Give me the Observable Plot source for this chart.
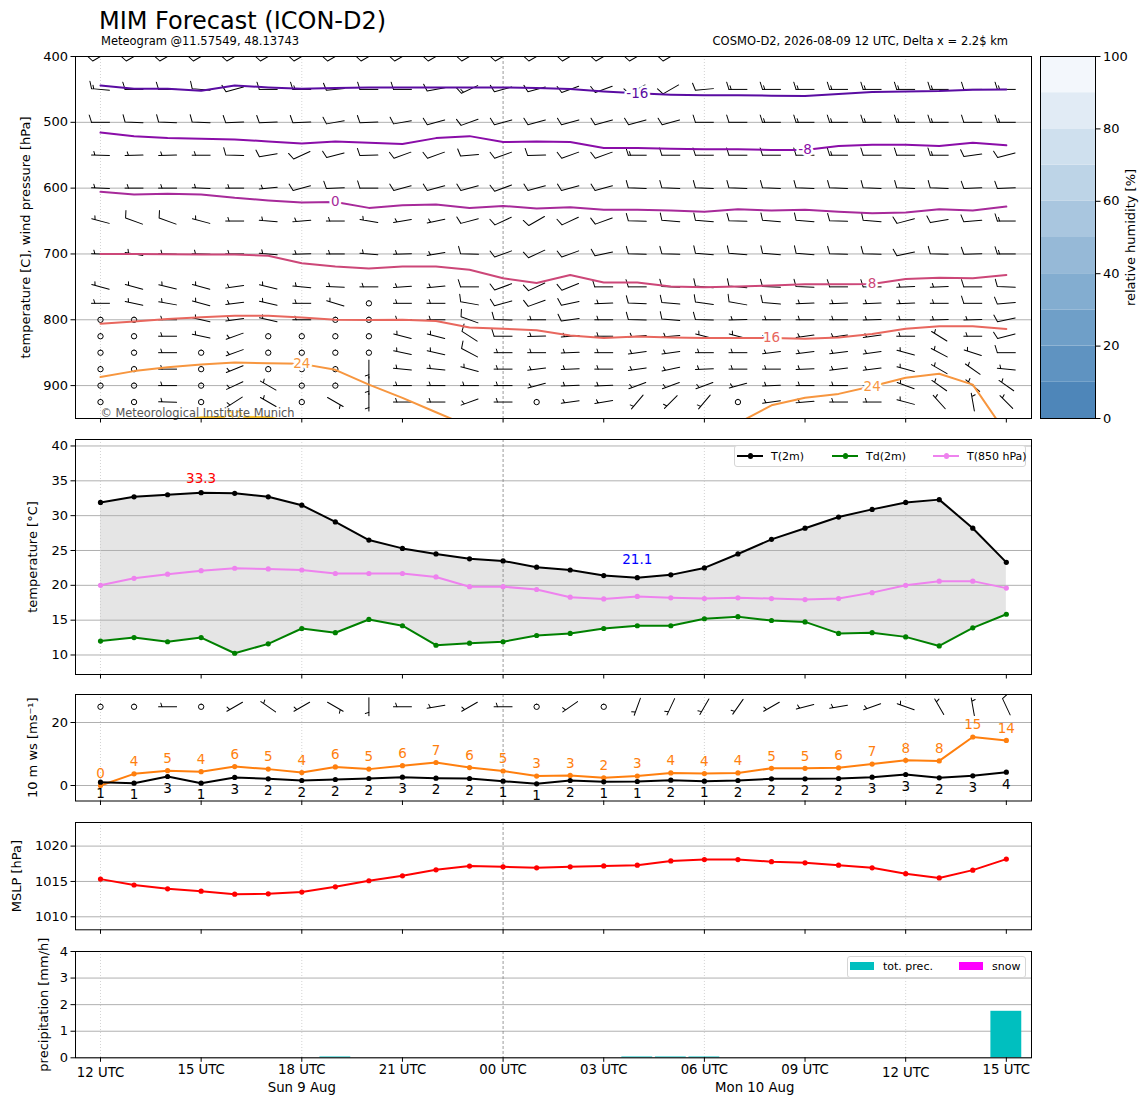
<!DOCTYPE html>
<html>
<head>
<meta charset="utf-8">
<script src="https://cdn.jsdelivr.net/npm/d3@7"></script>
<script src="https://cdn.jsdelivr.net/npm/@observablehq/plot@0.6"></script>
<style>
  html,body{margin:0;padding:0;background:#fff;}
  #wrap{position:relative;width:1148px;height:1105px;overflow:hidden;font-family:"DejaVu Sans",sans-serif;color:#000;}
  #wrap svg{position:absolute;left:0;overflow:visible;}
  .txt{position:absolute;white-space:nowrap;line-height:1;}
</style>
</head>
<body>
<div id="wrap"></div>
<script>
// ---------------- DATA ----------------
// hours after 2026-08-09 12 UTC
const hours = [0,1,2,3,4,5,6,7,8,9,10,11,12,13,14,15,16,17,18,19,20,21,22,23,24,25,26,27];
const xTicks = [0,3,6,9,12,15,18,21,24,27];
const xTickLabels = ["12 UTC","15 UTC","18 UTC","21 UTC","00 UTC","03 UTC","06 UTC","09 UTC","12 UTC","15 UTC"];
const dayLabels = ["Sun 9 Aug","Mon 10 Aug"];
const dayLabelHours = [6, 19.5];

// upper panel: wind barbs (direction deg, speed kt) per pressure level
const barbLevels = [400,450,500,550,600,650,700,750,775,800,825,850,875,900,925];
const barbDirRows = [
  [240,240,240,240,240,240,240,240,240,240,240,240,240,240,240,240,240,240,270,270,270,270,270,270,270,270,270,270],
  [275,270,270,275,255,270,270,265,270,270,260,245,255,255,250,250,240,240,265,270,270,270,270,270,270,270,270,270],
  [270,272,272,272,268,268,268,260,268,260,255,250,255,255,255,255,255,255,270,270,270,270,270,270,270,270,270,270],
  [272,268,268,270,272,260,245,255,268,250,250,265,250,268,250,250,270,270,270,270,270,270,270,270,270,270,262,255],
  [272,270,270,272,270,265,255,268,270,255,255,255,250,255,255,255,272,272,272,272,272,272,272,272,272,272,268,268],
  [285,290,290,285,270,275,265,270,280,260,258,255,245,240,245,250,272,275,275,272,275,275,272,275,255,260,265,270],
  [272,280,272,272,270,275,268,270,275,268,260,272,250,245,250,258,272,272,275,275,275,275,272,272,258,272,268,270],
  [285,285,283,285,262,283,275,272,270,266,265,270,250,245,248,270,270,272,275,275,272,272,270,270,268,268,270,272],
  [270,282,280,285,263,283,270,287,270,270,270,280,255,250,258,268,272,275,278,280,275,268,268,268,268,270,270,265],
  [270,270,270,283,262,283,270,270,270,270,270,290,272,270,262,270,272,275,272,268,270,270,270,268,270,268,268,258],
  [270,270,270,282,250,270,270,270,270,285,285,303,270,268,265,270,265,265,285,285,275,262,262,262,270,302,270,255],
  [270,270,270,270,250,270,270,270,270,282,283,298,270,270,268,270,262,262,270,270,263,263,263,262,285,298,288,270],
  [270,270,270,270,248,270,270,270,180,275,275,285,270,263,268,270,262,258,268,270,270,268,263,263,285,300,305,275],
  [270,270,270,270,245,300,270,270,180,270,270,270,270,255,268,268,250,250,250,255,268,270,270,270,290,305,310,305],
  [270,270,272,270,237,300,270,120,180,270,270,250,270,270,262,260,220,225,220,270,262,265,270,270,285,318,350,315]
];
const barbSpdRows = [
  [10,10,10,10,10,10,10,10,10,10,10,10,10,10,10,10,10,10,10,10,10,10,10,10,10,10,10,10],
  [15,10,10,10,10,10,15,10,10,10,10,15,10,10,10,10,10,10,10,15,15,15,15,15,15,15,10,15],
  [10,10,10,10,10,10,10,10,10,10,10,10,10,10,10,10,10,10,10,10,15,15,15,15,15,15,10,15],
  [5,5,5,5,10,10,10,10,10,10,10,10,10,10,10,10,15,10,10,10,10,10,15,10,10,15,10,10],
  [5,5,5,5,5,5,10,10,10,10,10,10,10,10,10,10,10,10,10,10,10,10,10,10,10,10,10,10],
  [5,10,10,5,5,5,5,5,5,5,5,10,10,10,10,10,10,10,10,10,10,10,10,10,10,10,10,15],
  [5,5,5,5,5,5,5,5,5,5,5,10,10,10,10,10,10,10,10,10,10,10,10,10,10,10,10,15],
  [5,5,5,5,5,5,5,5,5,5,5,10,10,10,10,10,10,10,10,10,10,10,10,10,5,5,10,10],
  [5,5,5,5,5,5,5,5,0,5,5,10,10,10,10,5,10,10,10,10,10,5,5,5,5,5,10,10],
  [0,0,5,5,5,5,5,0,0,5,5,10,10,5,10,5,10,10,10,5,5,5,5,5,5,5,5,10],
  [0,0,5,5,5,0,0,0,0,5,5,10,10,5,5,5,5,5,5,5,5,5,5,5,5,5,5,10],
  [0,0,5,0,5,0,0,0,0,5,5,10,5,5,5,5,5,5,5,5,5,5,5,5,5,5,5,10],
  [0,0,5,0,5,0,0,0,5,5,5,5,5,5,5,5,5,5,5,5,5,5,5,5,5,5,5,5],
  [0,0,5,0,5,5,0,0,5,5,5,5,5,5,5,5,5,5,5,5,5,5,5,5,5,5,5,5],
  [0,0,5,0,5,5,0,5,5,5,5,5,5,0,5,5,5,5,5,0,5,5,5,5,5,5,5,5]
];

// isotherms (pressure in hPa of each isotherm per hour)
const isoM16 = [444,449,449,452,444,447,449,448,447,447,447,447,447,448,449.5,453,456,458,459,459,459.5,460,457,454,453,452.5,450.5,450];
const isoM8  = [515.6,521,524,525,526,529,532,529,531,533,524,521,530,529,530,539,539,540,541,541,542,542,536,534,534,536,531,535];
const iso0   = [605.6,609.5,608.6,609.5,614.7,618.6,622,621,630,626,624.7,630,627,631,629,633,633,634,636,632,634,633,636,638,637,632,634,628];
const iso8   = [700,700,700.5,701,701,702.6,714,719,722,719,719,724,737,744,732,743.5,743.5,749.5,750.5,749.5,748,746,746,745.5,738,736,737,732];
const iso16  = [806,802.6,799,796,794,794,796.5,800,800.5,800,802,811.7,813.6,816,823.8,827.7,825.3,826.8,827.7,827.7,827.7,828.8,826.8,821.7,813.6,810,810,814];
const hours24a = [0,1,2,3,4,5,6,7,8,9,10,11];
const iso24a = [887,878,872,868,865,866,867,876,898.5,918.6,940.5,962];
const hours24b = [19,20,21,22,23,24,25,26,27];
const iso24b = [957,930,918.6,912.6,901,888,882,898.5,973];
const hours32 = [2,3,4,5,6];
const iso32 = [958,948,947.5,948,958];

// 2 m temperature panel
const t2m  = [31.9,32.7,33.0,33.3,33.2,32.7,31.5,29.1,26.5,25.3,24.5,23.8,23.5,22.6,22.2,21.4,21.1,21.5,22.5,24.5,26.6,28.2,29.8,30.9,31.9,32.3,28.2,23.3];
const td2m = [12.0,12.5,11.9,12.5,10.25,11.6,13.8,13.2,15.1,14.2,11.4,11.7,11.9,12.8,13.1,13.8,14.2,14.2,15.2,15.5,14.95,14.75,13.1,13.2,12.6,11.3,13.9,15.85];
const t850 = [20.0,21.0,21.6,22.1,22.45,22.35,22.2,21.7,21.7,21.7,21.2,19.8,19.8,19.4,18.3,18.05,18.4,18.2,18.1,18.2,18.1,17.95,18.1,18.95,20.0,20.6,20.6,19.6];

// 10 m wind panel (m/s)
const gust10 = [0.0,3.7,4.7,4.4,6.0,5.2,4.1,5.9,5.2,6.3,7.3,5.7,4.6,3.0,3.2,2.45,3.0,4.0,3.8,4.0,5.45,5.45,5.6,6.8,8.0,7.8,15.4,14.3];
const mean10 = [1.06,0.74,2.86,0.74,2.55,2.12,1.59,1.9,2.22,2.65,2.33,2.22,1.38,0.53,1.59,1.16,1.27,1.69,1.38,1.59,2.12,2.12,2.22,2.65,3.49,2.43,3.07,4.23];
const dir10  = [270,270,270,270,240,305,240,120,180,270,260,240,270,270,235,270,200,205,210,215,240,255,260,250,290,330,350,335];
const spd10  = [0,0,5,0,5,5,5,5,5,5,5,5,5,0,5,0,5,5,5,5,5,5,5,5,5,5,5,10];
const barb10Level = 25;

// MSLP (hPa)
const mslp = [1015.33,1014.5,1013.96,1013.63,1013.2,1013.25,1013.5,1014.24,1015.1,1015.8,1016.65,1017.17,1017.07,1016.93,1017.07,1017.2,1017.3,1017.9,1018.1,1018.1,1017.8,1017.64,1017.3,1016.93,1016.1,1015.5,1016.6,1018.16];

// precipitation (mm/h)
const precip = [0,0,0,0,0,0,0,0.03,0,0,0,0,0,0,0,0,0.03,0.03,0.03,0,0,0,0,0,0,0,0,1.75];
const snow   = [0,0,0,0,0,0,0,0,0,0,0,0,0,0,0,0,0,0,0,0,0,0,0,0,0,0,0,0];

// axis ticks
const pTicks = [400,500,600,700,800,900];
const tTicks = [10,15,20,25,30,35,40];
const wTicks = [0,20];
const mTicks = [1010,1015,1020];
const rTicks = [0,1,2,3,4];
const rhLevels = [0,10,20,30,40,50,60,70,80,90,100];
const rhTicks = [0,20,40,60,80,100];
const grid6h = [0,6,18,24];
const gridMidnight = [12];

// ---------------- STYLES ----------------
const rhColors = ["#4e86b9","#5f93c1","#6f9fc8","#83add0","#96b9d7","#a9c6df","#bdd4e7","#cfe0ee","#e1ebf5","#f3f7fc"];
const isoColors = {"-16":"#5a0ca2","-8":"#8a0da8","0":"#a72a9a","8":"#cc4778","16":"#e8675e","24":"#f7963f","32":"#f9c22e"};
const FONT = "DejaVu Sans, sans-serif";
const W = 1148, FL = 75, FR = 1031;
const xDomain = [-0.745, 27.75];
const wrap = document.getElementById("wrap");
const style = {fontFamily: FONT, fontSize: "13px", background: "transparent", overflow: "visible", color: "black"};

// wind barb shape for Plot.vector (length channel = speed + 1)
const barbShape = {
  draw(ctx, l) {
    const s = Math.round(l - 1);
    if (s < 2.5) { const rr = 2.7; ctx.moveTo(rr, 0); ctx.arc(0, 0, rr, 0, 2 * Math.PI); return; }
    const L = 18, half = L / 2, sp = 0.125 * L, fh = 0.4 * L, fw = 0.25 * L;
    ctx.moveTo(0, half); ctx.lineTo(0, -half);
    let n = Math.round(s / 5) * 5;
    const flags = Math.floor(n / 50); n -= flags * 50;
    const full = Math.floor(n / 10); n -= full * 10;
    const hb = n >= 5;
    let off = 0;
    for (let i = 0; i < flags; i++) { const y0 = -half + off; ctx.moveTo(0, y0); ctx.lineTo(fh, y0 + fw / 2); ctx.lineTo(0, y0 + fw); ctx.closePath(); off += fw + sp; }
    for (let i = 0; i < full; i++) { const y0 = -half + off; ctx.moveTo(0, y0); ctx.lineTo(fh, y0 - fw / 2); off += sp; }
    if (hb) { if (flags === 0 && full === 0) off += 1.5 * sp; const y0 = -half + off; ctx.moveTo(0, y0); ctx.lineTo(fh / 2, y0 - fw / 4); }
  }
};

const barbData = [];
barbLevels.forEach((p, i) => hours.forEach((h, j) => barbData.push({h, p, d: barbDirRows[i][j], s: barbSpdRows[i][j]})));
const barb10Data = hours.map((h, i) => ({h, p: barb10Level, d: dir10[i], s: spd10[i]}));

const vGrid = () => [
  Plot.ruleX(grid6h, {x: d => d, stroke: "#c8c8c8", strokeWidth: 0.8, strokeDasharray: "1,2"}),
  Plot.ruleX(gridMidnight, {x: d => d, stroke: "#808080", strokeWidth: 0.8, strokeDasharray: "3,2"})
];
const hGrid = (ticks) => Plot.gridY({ticks, stroke: "#b0b0b0", strokeOpacity: 1, strokeWidth: 1});
const yAxis = (ticks) => Plot.axisY({ticks, tickSize: 4.5, tickPadding: 3, tickFormat: d => String(d), label: null, fontSize: 13});
const xTickMarks = () => Plot.axisX({ticks: xTicks, tickSize: 4.5, tickFormat: () => "", label: null});
const frame = () => Plot.frame({stroke: "black", strokeWidth: 1});
const yLabel = (t, off) => Plot.text([t], {text: d => d, frameAnchor: "left", textAnchor: "middle", lineAnchor: "middle", rotate: -90, dx: -off, fontSize: 13});

function panel(top, bottom, yDomain, reverse, marks, mb = 24) {
  const mt = 10;
  const svg = Plot.plot({
    width: W, height: mt + (bottom - top) + mb,
    marginTop: mt, marginBottom: mb, marginLeft: FL, marginRight: W - FR,
    x: {domain: xDomain, axis: null},
    y: {domain: yDomain, reverse, axis: null},
    length: {domain: [0, 100], range: [0, 100]},
    color: {type: "identity"},
    style, marks
  });
  svg.style.top = (top - mt) + "px";
  wrap.appendChild(svg);
}

// ---------------- PANEL 1: upper air ----------------
const isoDefs = [
  {T: -16, h: hours, p: isoM16}, {T: -8, h: hours, p: isoM8}, {T: 0, h: hours, p: iso0},
  {T: 8, h: hours, p: iso8}, {T: 16, h: hours, p: iso16},
  {T: 24, h: hours24a, p: iso24a}, {T: 24, h: hours24b, p: iso24b}, {T: 32, h: hours32, p: iso32}
];
const isoLabelData = [
  {T: -16, h: 16, p: isoM16[16]}, {T: -8, h: 21, p: isoM8[21]}, {T: 0, h: 7, p: iso0[7]},
  {T: 8, h: 23, p: iso8[23]}, {T: 16, h: 20, p: iso16[20]},
  {T: 24, h: 6, p: iso24a[6]}, {T: 24, h: 23, p: iso24b[4]}, {T: 32, h: 4, p: iso32[2]}
];
panel(56, 418, [400, 950], true, [
  hGrid(pTicks),
  ...vGrid(),
  Plot.vector(barbData, {x: "h", y: "p", length: d => d.s + 1, rotate: "d", anchor: "start", shape: barbShape, stroke: "black", strokeWidth: 1, clip: true}),
  ...isoDefs.map(def => Plot.line(def.h.map((h, i) => ({h, p: def.p[i]})), {x: "h", y: "p", stroke: isoColors[def.T], strokeWidth: 2, clip: true})),
  Plot.text(isoLabelData, {x: "h", y: "p", text: d => String(d.T), fill: d => isoColors[d.T], stroke: "white", strokeWidth: 5, paintOrder: "stroke", fontSize: 13.5, clip: true}),
  Plot.text(["© Meteorological Institute Munich"], {text: d => d, frameAnchor: "bottom-left", dx: 25, dy: -2, textAnchor: "start", lineAnchor: "bottom", fill: "#555", fontSize: 11.4}),
  frame(), yAxis(pTicks), xTickMarks(),
  yLabel("temperature [C], wind pressure [hPa]", 50)
]);

// colorbar
{
  const cb = Plot.plot({
    width: W, height: 10 + 362 + 24, marginTop: 10, marginBottom: 24, marginLeft: 1040, marginRight: W - 1095,
    x: {domain: [0, 1], axis: null}, y: {domain: [0, 100], axis: null}, color: {type: "identity"},
    style,
    marks: [
      Plot.rect(rhColors, {x1: 0, x2: 1, y1: (d, i) => rhLevels[i], y2: (d, i) => rhLevels[i + 1], fill: d => d}),
      Plot.frame({stroke: "black", strokeWidth: 1}),
      Plot.axisY({anchor: "right", ticks: rhTicks, tickSize: 4.5, tickPadding: 3, tickFormat: d => String(d), label: null, fontSize: 13}),
      Plot.text(["relative humidity [%]"], {text: d => d, frameAnchor: "right", textAnchor: "middle", lineAnchor: "middle", rotate: -90, dx: 35, fontSize: 13})
    ]
  });
  cb.style.top = "46px";
  wrap.appendChild(cb);
}

// ---------------- PANEL 2: temperatures ----------------
const tData = hours.map((h, i) => ({h, t: t2m[i], td: td2m[i], t8: t850[i]}));
const iMax = d3.maxIndex(t2m), iMin = d3.minIndex(t2m);
panel(438.5, 673.5, [7.2, 40.93], false, [
  Plot.areaY(tData, {x: "h", y1: "td", y2: "t", fill: "#cfcfcf", fillOpacity: 0.55}),
  hGrid(tTicks),
  ...vGrid(),
  Plot.line(tData, {x: "h", y: "t8", stroke: "#ee82ee", strokeWidth: 2}),
  Plot.dot(tData, {x: "h", y: "t8", r: 2.6, fill: "#ee82ee"}),
  Plot.line(tData, {x: "h", y: "td", stroke: "#008000", strokeWidth: 2}),
  Plot.dot(tData, {x: "h", y: "td", r: 2.6, fill: "#008000"}),
  Plot.line(tData, {x: "h", y: "t", stroke: "black", strokeWidth: 2}),
  Plot.dot(tData, {x: "h", y: "t", r: 2.6, fill: "black"}),
  Plot.text([tData[iMax]], {x: "h", y: "t", text: d => d.t.toFixed(1), dy: -14, fill: "red", fontSize: 13.5}),
  Plot.text([tData[iMin]], {x: "h", y: "t", text: d => d.t.toFixed(1), dy: -18, fill: "blue", fontSize: 13.5}),
  frame(), yAxis(tTicks), xTickMarks(),
  yLabel("temperature [°C]", 43)
]);

// ---------------- PANEL 3: 10 m wind ----------------
const wData = hours.map((h, i) => ({h, g: gust10[i], m: mean10[i]}));
panel(694, 800.5, [-4.92, 28.89], false, [
  hGrid(wTicks),
  ...vGrid(),
  Plot.vector(barb10Data, {x: "h", y: "p", length: d => d.s + 1, rotate: "d", anchor: "start", shape: barbShape, stroke: "black", strokeWidth: 1, clip: true}),
  Plot.line(wData, {x: "h", y: "g", stroke: "#ff7f0e", strokeWidth: 2}),
  Plot.dot(wData, {x: "h", y: "g", r: 2.6, fill: "#ff7f0e"}),
  Plot.line(wData, {x: "h", y: "m", stroke: "black", strokeWidth: 2}),
  Plot.dot(wData, {x: "h", y: "m", r: 2.6, fill: "black"}),
  Plot.text(wData, {x: "h", y: "g", text: d => String(Math.round(d.g)), dy: -12, fill: "#ff7f0e", fontSize: 13.5}),
  Plot.text(wData, {x: "h", y: "m", text: d => String(Math.round(d.m)), dy: 12, fill: "black", fontSize: 13.5}),
  frame(), yAxis(wTicks), xTickMarks(),
  yLabel("10 m ws [ms⁻¹]", 43)
], 22);

// ---------------- PANEL 4: MSLP ----------------
const mData = hours.map((h, i) => ({h, p: mslp[i]}));
panel(821.7, 929, [1008.16, 1023.34], false, [
  hGrid(mTicks),
  ...vGrid(),
  Plot.line(mData, {x: "h", y: "p", stroke: "red", strokeWidth: 2}),
  Plot.dot(mData, {x: "h", y: "p", r: 2.6, fill: "red"}),
  frame(), yAxis(mTicks), xTickMarks(),
  yLabel("MSLP [hPa]", 59)
], 22);

// ---------------- PANEL 5: precipitation ----------------
const rData = hours.map((h, i) => ({h, v: precip[i], s: snow[i]}));
const labelOf = h => xTickLabels[xTicks.indexOf(h)];
panel(950.7, 1057, [0, 4], false, [
  hGrid(rTicks),
  ...vGrid(),
  Plot.rect(rData.filter(d => d.v > 0), {x1: d => d.h - 0.46, x2: d => d.h + 0.46, y1: 0, y2: "v", fill: "#00bfbf"}),
  Plot.rect(rData.filter(d => d.s > 0), {x1: d => d.h - 0.46, x2: d => d.h + 0.46, y1: 0, y2: "s", fill: "#ff00ff"}),
  frame(), yAxis(rTicks),
  Plot.axisX({ticks: xTicks.filter(h => h % 24 !== 0), tickSize: 4.5, tickPadding: 2.5, tickFormat: labelOf, label: null, fontSize: 13.3}),
  Plot.axisX({ticks: xTicks.filter(h => h % 24 === 0), tickSize: 4.5, tickPadding: 5, tickFormat: labelOf, label: null, fontSize: 13.3}),
  Plot.text(dayLabels, {x: (d, i) => dayLabelHours[i], text: d => d, frameAnchor: "bottom", dy: 30, lineAnchor: "middle", fontSize: 13.3}),
  yLabel("precipitation [mm/h]", 32)
], 48);

// ---------------- TITLES & LEGENDS ----------------
function addText(txt, left, top, size, extra = {}) {
  const d = document.createElement("div");
  d.className = "txt"; d.textContent = txt;
  Object.assign(d.style, {left: left + "px", top: top + "px", fontSize: size + "px"}, extra);
  wrap.appendChild(d); return d;
}
function addBox(left, top, w, h, css) {
  const d = document.createElement("div");
  Object.assign(d.style, {position: "absolute", left: left + "px", top: top + "px", width: w + "px", height: h + "px", boxSizing: "border-box"}, css);
  wrap.appendChild(d); return d;
}
addText("MIM Forecast (ICON-D2)", 99, 8.5, 24);
addText("Meteogram @11.57549, 48.13743", 101, 35.8, 11.5);
const rt = addText("COSMO-D2, 2026-08-09 12 UTC, Delta x = 2.2$ km", 0, 35.8, 11.5);
rt.style.left = ""; rt.style.right = (W - 1008) + "px";

// legend for temperature panel
addBox(734, 445, 292, 22, {border: "1px solid #d6d6d6", borderRadius: "3px", background: "rgba(255,255,255,0.85)"});
[["T(2m)", "black", 737], ["Td(2m)", "#008000", 832], ["T(850 hPa)", "#ee82ee", 933]].forEach(([lab, col, x0]) => {
  addBox(x0, 455, 26, 2, {background: col});
  addBox(x0 + 10.5, 453.3, 5.4, 5.4, {background: col, borderRadius: "50%"});
  addText(lab, x0 + 34, 450.5, 11);
});
// legend for precipitation panel
addBox(847, 956, 179, 22, {border: "1px solid #d6d6d6", borderRadius: "3px", background: "rgba(255,255,255,0.85)"});
[["tot. prec.", "#00bfbf", 850], ["snow", "#ff00ff", 959]].forEach(([lab, col, x0]) => {
  addBox(x0, 962, 24, 7.5, {background: col});
  addText(lab, x0 + 33, 961, 11);
});
</script>
</body>
</html>
